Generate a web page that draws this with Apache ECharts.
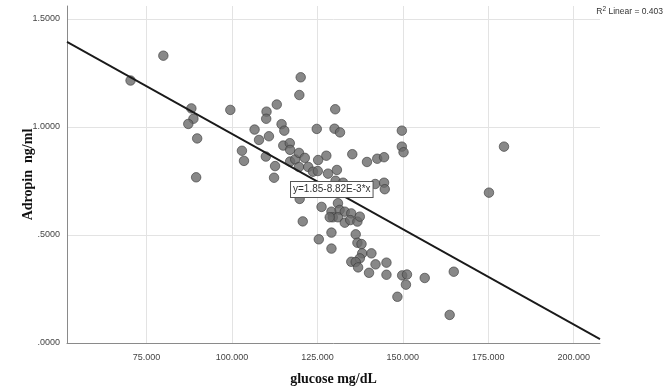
<!DOCTYPE html>
<html>
<head>
<meta charset="utf-8">
<script src="https://cdn.jsdelivr.net/npm/echarts@6/dist/echarts.min.js"></script>
<style>
html, body { margin: 0; padding: 0; background: #ffffff; }
#chart { width: 668px; height: 389px; }
</style>
</head>
<body>
<div id="chart"></div>
<script>
// Glucose (mg/dL) and adropin (ng/ml) for each subject
const glucose = [70.3, 79.9, 88.1, 88.7, 87.2, 89.8, 89.5, 99.5, 102.9, 103.5,
  106.6, 107.9, 110.8, 109.9, 112.6, 112.3, 113.1, 110.1, 110.0, 114.5,
  115.3, 115.0, 116.9, 117.0, 120.1, 119.7, 117.0, 118.5, 119.6, 121.3,
  119.6, 122.3, 123.7, 124.8, 130.2, 130.0, 131.6, 135.2, 139.5, 142.5,
  144.5, 127.6, 125.2, 125.1, 128.1, 130.7, 130.3, 132.5, 141.9, 144.5,
  144.7, 149.7, 149.7, 150.2, 179.6, 175.2, 119.8, 126.2, 120.7, 129.1,
  129.5, 131.0, 131.5, 133.0, 134.9, 131.0, 133.0, 134.6, 136.7, 137.4,
  128.6, 129.1, 125.4, 129.1, 136.2, 136.7, 137.9, 138.1, 140.8, 137.4,
  134.9, 136.2, 136.9, 140.1, 142.0, 145.2, 145.2, 148.4, 149.8, 151.2,
  150.9, 156.4, 164.9, 163.7];
const adropin = [1.215, 1.330, 1.086, 1.038, 1.014, 0.947, 0.767, 1.079, 0.890, 0.843,
  0.988, 0.940, 0.957, 0.863, 0.819, 0.765, 1.104, 1.071, 1.038, 1.013,
  0.983, 0.914, 0.925, 0.894, 1.230, 1.148, 0.840, 0.850, 0.880, 0.857,
  0.815, 0.815, 0.793, 0.991, 1.082, 0.992, 0.975, 0.874, 0.838, 0.853,
  0.860, 0.867, 0.847, 0.796, 0.784, 0.801, 0.751, 0.742, 0.736, 0.742,
  0.712, 0.983, 0.909, 0.883, 0.909, 0.696, 0.667, 0.630, 0.563, 0.608,
  0.582, 0.647, 0.616, 0.608, 0.600, 0.582, 0.557, 0.569, 0.562, 0.585,
  0.582, 0.511, 0.480, 0.437, 0.503, 0.464, 0.458, 0.415, 0.415, 0.392,
  0.376, 0.375, 0.350, 0.325, 0.364, 0.372, 0.316, 0.214, 0.313, 0.317,
  0.270, 0.301, 0.330, 0.130];

// Axis ticks
const xTicks = [75, 100, 125, 150, 175, 200];
const yTicks = [0, 0.5, 1.0, 1.5];

// Linear fit: y = 1.85 - 8.82E-3 * x
const fitIntercept = 1.85;
const fitSlope = -8.82e-3;
const rSquared = 0.403;
const fitLabelAt = 129.2;

const xMin = 51.7, xMax = 207.7;
const yMin = 0, yMax = 1.56;

const points = glucose.map((g, i) => [g, adropin[i]]);
const fitY = x => fitIntercept + fitSlope * x;

const chart = echarts.init(document.getElementById('chart'), null, { renderer: 'canvas' });

const sans = 'Arial, "Liberation Sans", sans-serif';
const serif = '"Liberation Serif", "Times New Roman", serif';
const tickFont = { fontFamily: sans, fontSize: 9, color: '#444' };

chart.setOption({
  animation: false,
  backgroundColor: '#ffffff',
  grid: { left: 67, right: 68, top: 6, bottom: 46, containLabel: false, outerBoundsMode: 'none' },
  xAxis: {
    type: 'value',
    min: xMin, max: xMax,
    name: 'glucose mg/dL',
    nameLocation: 'middle',
    nameGap: 29,
    nameMoveOverlap: false,
    nameTextStyle: { fontFamily: serif, fontWeight: 'bold', fontSize: 14, color: '#111' },
    axisLine: { show: true, lineStyle: { color: '#8a8a8a', width: 1 } },
    axisTick: { show: false, customValues: xTicks },
    axisLabel: Object.assign({ customValues: xTicks, margin: 10,
      formatter: v => v.toFixed(3) }, tickFont),
    splitLine: { show: true, lineStyle: { color: '#e3e3e3', width: 1 } }
  },
  yAxis: {
    type: 'value',
    min: yMin, max: yMax,
    name: 'Adropin  ng/ml',
    nameLocation: 'middle',
    nameRotate: 90,
    nameGap: 32,
    nameMoveOverlap: false,
    nameTextStyle: { fontFamily: serif, fontWeight: 'bold', fontSize: 14, color: '#111' },
    axisLine: { show: true, lineStyle: { color: '#8a8a8a', width: 1 } },
    axisTick: { show: false, customValues: yTicks },
    axisLabel: Object.assign({ customValues: yTicks, margin: 7,
      formatter: v => v.toFixed(4).replace(/^0\./, '.') }, tickFont),
    splitLine: { show: true, lineStyle: { color: '#e3e3e3', width: 1 } }
  },
  series: [
    {
      type: 'scatter',
      data: points,
      symbol: 'circle',
      symbolSize: 9.5,
      itemStyle: { color: '#6a6a6a', borderColor: '#3a3a3a', borderWidth: 0.8 },
      z: 2
    },
    {
      type: 'line',
      data: [[xMin, fitY(xMin)], [xMax, fitY(xMax)]],
      symbol: 'none',
      lineStyle: { color: '#1a1a1a', width: 1.8 },
      z: 3,
      markPoint: {
        symbol: 'rect',
        symbolSize: 0,
        data: [{ coord: [fitLabelAt, fitY(fitLabelAt)] }],
        label: {
          show: true,
          position: 'inside',
          formatter: 'y=1.85-8.82E-3*x',
          fontFamily: sans,
          fontSize: 10,
          color: '#333',
          backgroundColor: '#ffffff',
          borderColor: '#555',
          borderWidth: 1,
          padding: [3, 2, 2, 2]
        },
        z: 5
      }
    }
  ],
  graphic: [
    {
      type: 'text',
      right: 5,
      top: 6,
      style: {
        text: 'R{sup|2} Linear = ' + rSquared.toFixed(3),
        font: '8.5px ' + sans,
        fill: '#333',
        rich: {
          sup: { fontSize: 6.5, fontFamily: sans, fill: '#333', verticalAlign: 'top', padding: [0, 0, 4, 0] }
        }
      }
    }
  ]
});
</script>
</body>
</html>
